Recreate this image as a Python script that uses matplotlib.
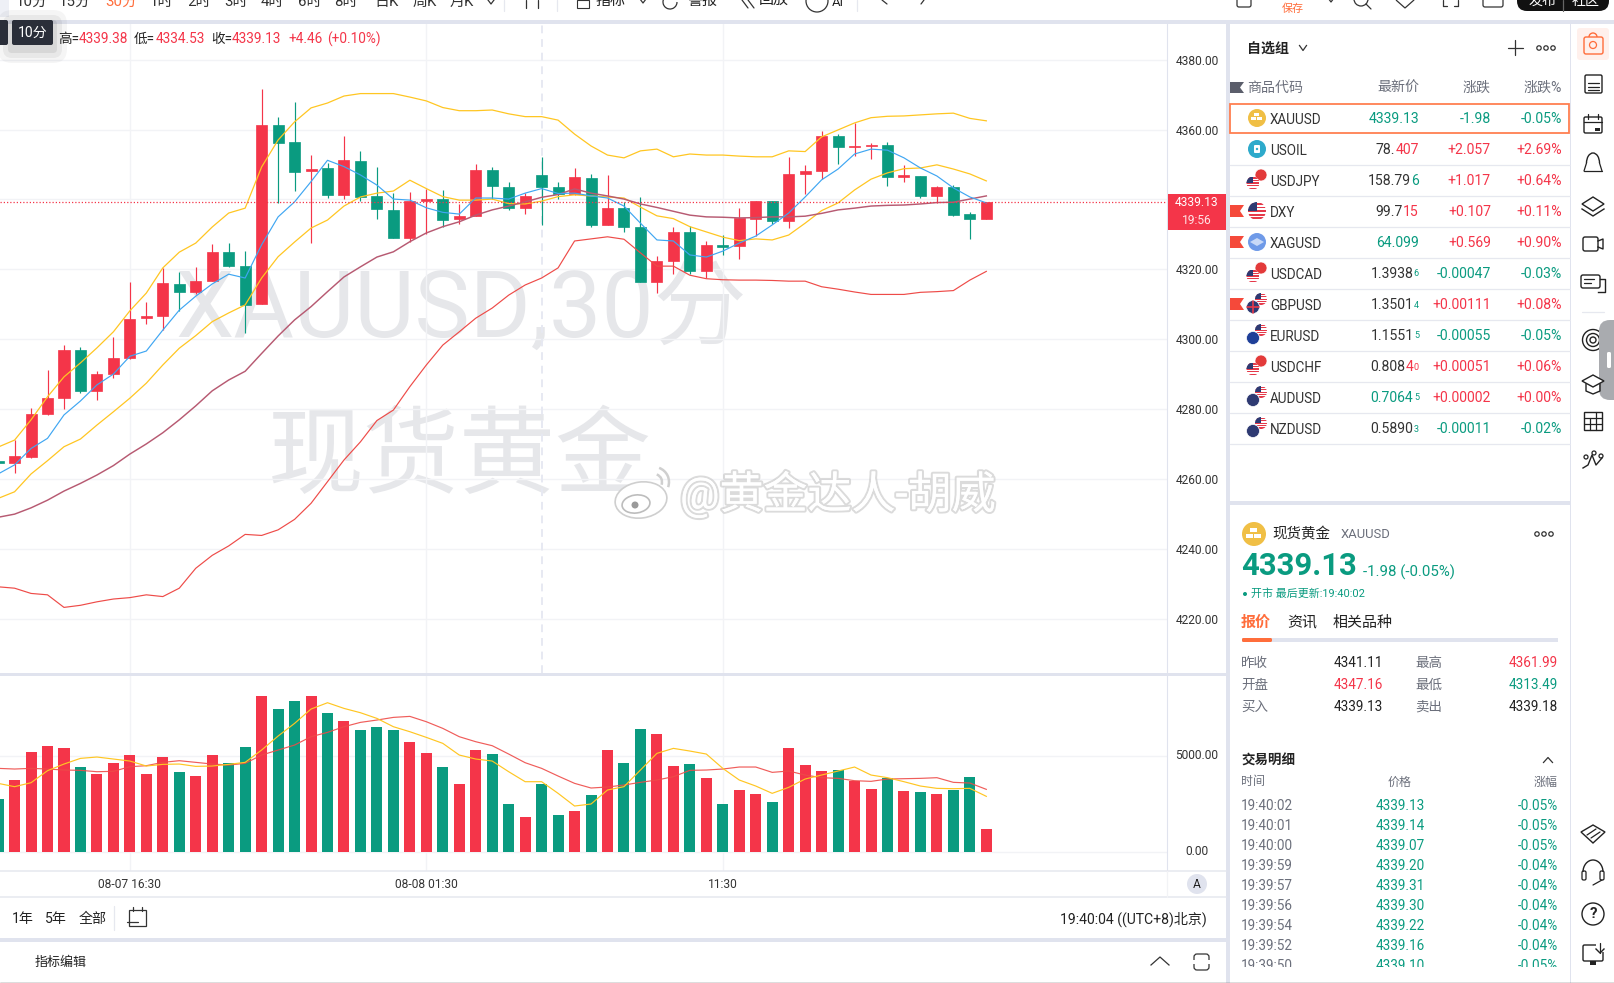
import matplotlib
matplotlib.use('Agg')
import matplotlib.pyplot as plt
import matplotlib.patheffects as pe
from matplotlib.patches import Rectangle, Circle, Polygon, Ellipse, Arc, FancyBboxPatch

plt.rcParams['font.family'] = ['Roboto', 'Noto Sans CJK SC', 'DejaVu Sans']

# candles, one row per 30 minute bar
opens = [4265.0, 4264.6, 4266.3, 4278.6, 4283.2, 4296.9, 4285.2, 4290.0, 4294.6, 4306.05, 4306.6, 4315.8, 4313.5, 4316.6, 4325.0, 4320.9,
         4310.1, 4361.3, 4356.4, 4348.13, 4349.0, 4341.3, 4351.0, 4341.0, 4337.0, 4329.0, 4339.54, 4340.1, 4334.39, 4335.3, 4348.4,
         4343.6, 4337.5, 4347.0, 4343.6, 4341.6, 4346.1, 4332.7, 4337.5, 4332.1, 4316.4, 4322.4, 4330.7, 4319.5, 4326.95, 4326.7,
         4334.4, 4339.5, 4333.8, 4347.3, 4348.1, 4358.2, 4355.0, 4355.29, 4355.6, 4346.42, 4346.7, 4341.0, 4343.6, 4335.8, 4334.4]
closes = [4264.5, 4266.5, 4278.6, 4283.2, 4296.9, 4285.2, 4290.0, 4294.6, 4305.8, 4306.62, 4316.1, 4313.5, 4316.6, 4325.0, 4320.9, 4309.8,
          4361.3, 4356.2, 4347.9, 4348.71, 4341.3, 4351.3, 4340.7, 4337.3, 4329.0, 4339.5, 4340.12, 4334.1, 4335.25, 4348.4, 4343.8,
          4337.5, 4341.0, 4343.6, 4341.6, 4346.4, 4332.7, 4337.5, 4332.1, 4316.4, 4322.4, 4330.7, 4319.5, 4327.0, 4326.38, 4334.7,
          4339.5, 4333.8, 4347.3, 4348.1, 4358.2, 4355.0, 4355.29, 4355.58, 4346.4, 4346.99, 4341.0, 4343.6, 4335.5, 4334.4, 4339.13]
highs = [4265.0, 4271.1, 4280.3, 4291.2, 4298.3, 4297.8, 4290.9, 4300.6, 4316.4, 4310.6, 4320.4, 4319.2, 4320.7, 4327.2, 4327.5, 4325.2,
         4371.6, 4363.6, 4367.9, 4352.7, 4350.4, 4358.2, 4353.9, 4349.3, 4341.8, 4342.1, 4343.0, 4342.7, 4338.7, 4350.1, 4349.3,
         4345.0, 4341.8, 4352.1, 4345.0, 4349.0, 4347.3, 4347.0, 4339.3, 4340.7, 4323.8, 4332.1, 4332.4, 4328.1, 4329.8, 4337.5,
         4339.5, 4339.5, 4352.1, 4349.9, 4359.6, 4358.7, 4361.9, 4356.2, 4356.4, 4349.9, 4346.7, 4343.8, 4344.1, 4336.4, 4339.38]
lows = [4264.5, 4261.8, 4266.1, 4278.3, 4280.0, 4284.6, 4282.6, 4288.9, 4294.3, 4304.3, 4302.6, 4308.1, 4312.9, 4316.6, 4320.7, 4301.8,
        4310.1, 4339.0, 4342.4, 4327.5, 4340.4, 4340.1, 4339.5, 4334.4, 4329.0, 4327.8, 4330.1, 4332.1, 4333.0, 4335.3, 4340.1,
        4337.0, 4335.8, 4332.7, 4340.1, 4341.3, 4332.1, 4332.7, 4330.7, 4316.4, 4313.2, 4318.7, 4318.7, 4317.5, 4324.1, 4322.9,
        4329.5, 4333.0, 4331.8, 4341.6, 4345.8, 4350.1, 4352.4, 4351.6, 4343.8, 4345.0, 4340.4, 4339.0, 4335.3, 4328.7, 4334.39]

ma_blue = [4261.4, 4264.0, 4268.7, 4271.6, 4278.3, 4282.3, 4286.9, 4290.0, 4295.1, 4296.6, 4302.6, 4308.3, 4312.3, 4315.8, 4318.6, 4317.5,
           4327.0, 4335.0, 4339.3, 4345.1, 4351.2, 4349.4, 4347.0, 4344.1, 4340.1, 4339.8, 4337.6, 4336.3, 4335.8, 4340.4, 4340.4,
           4340.1, 4341.8, 4343.1, 4341.7, 4341.8, 4341.0, 4340.4, 4338.1, 4333.2, 4328.4, 4328.1, 4324.1, 4323.5, 4325.2, 4327.5,
           4329.5, 4332.7, 4336.1, 4340.7, 4345.6, 4348.7, 4353.0, 4354.4, 4354.1, 4351.9, 4349.0, 4346.7, 4343.3, 4340.7, 4339.0]
band_upper = [4269.1, 4271.1, 4276.9, 4283.5, 4289.2, 4293.2, 4297.5, 4302.1, 4308.1, 4313.2, 4320.4, 4324.9, 4327.5, 4332.1, 4336.1, 4337.5,
              4349.3, 4357.0, 4362.2, 4366.2, 4367.6, 4369.6, 4370.3, 4370.3, 4370.3, 4369.3, 4368.2, 4366.3, 4365.4, 4365.4, 4365.6,
              4364.5, 4363.7, 4363.7, 4362.7, 4358.7, 4355.3, 4352.7, 4351.9, 4353.9, 4354.4, 4352.2, 4353.0, 4352.7, 4352.7, 4352.4,
              4352.2, 4352.2, 4353.9, 4353.7, 4357.9, 4359.9, 4361.9, 4363.4, 4363.8, 4363.9, 4364.2, 4364.5, 4364.7, 4363.2, 4362.5]
ma_yellow = [4254.4, 4256.3, 4261.4, 4265.2, 4269.2, 4271.4, 4275.4, 4279.2, 4283.1, 4287.4, 4292.6, 4297.4, 4301.0, 4305.0, 4307.5, 4309.8,
             4317.5, 4323.6, 4327.8, 4331.8, 4334.1, 4338.1, 4340.7, 4341.8, 4342.4, 4345.5, 4343.1, 4340.8, 4339.8, 4339.8, 4340.1,
             4338.8, 4338.7, 4339.5, 4340.8, 4341.3, 4341.0, 4340.7, 4340.4, 4337.8, 4335.3, 4334.5, 4332.2, 4330.7, 4329.2, 4328.2,
             4328.7, 4328.4, 4329.8, 4333.2, 4336.8, 4339.0, 4342.7, 4345.8, 4347.6, 4348.8, 4349.0, 4349.9, 4348.7, 4347.3, 4345.3]
ma_mauve = [4249.0, 4249.9, 4251.7, 4253.9, 4256.5, 4258.7, 4261.1, 4263.8, 4267.1, 4270.0, 4273.2, 4276.9, 4280.9, 4285.2, 4288.3, 4290.8,
            4295.9, 4300.9, 4305.5, 4309.3, 4313.6, 4317.8, 4320.7, 4323.5, 4325.0, 4327.9, 4330.4, 4332.2, 4333.6, 4335.5, 4337.0,
            4338.1, 4339.3, 4340.6, 4341.4, 4343.0, 4341.8, 4341.0, 4340.1, 4338.7, 4337.7, 4336.6, 4335.5, 4335.0, 4334.9, 4334.7,
            4334.8, 4335.0, 4335.0, 4335.2, 4336.0, 4337.0, 4337.5, 4338.1, 4338.3, 4338.4, 4338.7, 4339.1, 4339.2, 4340.1, 4341.0]
band_lower = [4229.1, 4228.7, 4227.2, 4226.8, 4223.2, 4223.8, 4224.8, 4225.6, 4226.0, 4226.8, 4226.3, 4228.7, 4234.4, 4238.1, 4240.8, 4244.1,
              4243.8, 4245.4, 4248.4, 4253.0, 4259.2, 4265.4, 4270.6, 4276.7, 4279.7, 4286.4, 4292.6, 4298.3, 4302.1, 4306.0, 4308.9,
              4312.6, 4315.5, 4317.5, 4320.4, 4328.1, 4328.7, 4329.3, 4328.6, 4324.7, 4320.9, 4320.9, 4318.3, 4317.3, 4317.0, 4316.9,
              4316.9, 4316.8, 4316.6, 4316.6, 4315.0, 4314.3, 4313.5, 4312.8, 4312.8, 4312.8, 4313.4, 4313.6, 4313.9, 4316.9, 4319.4]

volumes = [2750, 3737, 5190, 5501, 5398, 4412, 4048, 4619, 5034, 4048, 4931, 4152, 3944, 5034, 4619, 5450,
           8096, 7422, 7837, 8096, 7214, 6799, 6332, 6488, 6332, 5709, 5138, 4412, 3529, 5294, 5086,
           2491, 1817, 3529, 1920, 2128, 2958, 5294, 4619, 6384, 6124, 4463, 4567, 3841, 2491, 3218,
           3010, 2595, 5398, 4515, 4204, 4256, 3685, 3270, 3841, 3166, 3114, 3010, 3218, 3893, 1194]
vol_ma_short = [3564, 3391, 3598, 4221, 4567, 4861, 4931, 4827, 4723, 4463, 4550, 4567, 4446, 4463, 4550, 4654,
                5294, 6020, 6678, 7422, 7750, 7456, 7231, 6937, 6505, 6245, 5951, 5640, 5034, 4827, 4723,
                4169, 3650, 3650, 3045, 2387, 2491, 3218, 3391, 4256, 5121, 5380, 5242, 5086, 4342, 3737,
                3425, 3045, 3356, 3789, 3996, 4204, 4412, 3996, 3858, 3650, 3425, 3304, 3287, 3304, 2889]
vol_ma_long = [4342, 4308, 4342, 4308, 4256, 4239, 4169, 4187, 4429, 4481, 4654, 4740, 4654, 4567, 4515, 4602,
               5034, 5294, 5553, 5986, 6211, 6505, 6730, 6851, 6989, 7041, 6764, 6418, 5986, 5726, 5519,
               5086, 4636, 4342, 3944, 3564, 3322, 3374, 3477, 3616, 3737, 3910, 4239, 4256, 4308, 4412,
               4412, 4135, 4204, 3996, 3858, 3823, 3702, 3668, 3789, 3806, 3823, 3858, 3616, 3581, 3252]

price_ticks = [4380, 4360, 4340, 4320, 4300, 4280, 4260, 4240, 4220]
# 4340.00 sits under the price tag in the screenshot
price_labels = ['4380.00', '4360.00', '', '4320.00', '4300.00', '4280.00', '4260.00', '4240.00', '4220.00']
vol_ticks = [0, 5000]
time_ticks = [8, 26, 44]
time_labels = ['08-07 16:30', '08-08 01:30', '11:30']
last_close = 4339.13

toolbar_labels = ['10分', '15分', '30分', '1时', '2时', '3时', '4时', '6时', '8时', '日K', '周K', '月K']
watch_symbols = ['XAUUSD', 'USOIL', 'USDJPY', 'DXY', 'XAGUSD', 'USDCAD', 'GBPUSD', 'EURUSD', 'USDCHF', 'AUDUSD', 'NZDUSD']
watch_change = ['-1.98', '+2.057', '+1.017', '+0.107', '+0.569', '-0.00047', '+0.00111', '-0.00055', '+0.00051', '+0.00002', '-0.00011']
watch_pct = ['-0.05%', '+2.69%', '+0.64%', '+0.11%', '+0.90%', '-0.03%', '+0.08%', '-0.05%', '+0.06%', '+0.00%', '-0.02%']
# quote split in the parts that are coloured differently: (dark part, coloured part, small last digit)
watch_quote = [('', '4339.13', '', 'g'), ('78.', '407', '', 'r'), ('158.79', '6', '', 'g'), ('99.7', '15', '', 'r'),
               ('', '64.099', '', 'g'), ('1.3938', '', '6', 'g'), ('1.3501', '', '4', 'g'), ('1.1551', '', '5', 'g'),
               ('0.808', '4', '0', 'r'), ('', '0.7064', '5', 'g'), ('0.5890', '', '3', 'g')]
trade_times = ['19:40:02', '19:40:01', '19:40:00', '19:39:59', '19:39:57', '19:39:56', '19:39:54', '19:39:52', '19:39:50']
trade_prices = ['4339.13', '4339.14', '4339.07', '4339.20', '4339.31', '4339.30', '4339.22', '4339.16', '4339.10']
trade_pcts = ['-0.05%', '-0.05%', '-0.05%', '-0.04%', '-0.04%', '-0.04%', '-0.04%', '-0.04%', '-0.05%']

RED = '#f43549'
GREEN = '#0a9b80'
ORANGE = '#ff6d3b'
YELLOW = '#ffc622'
BLUE = '#3fa6f2'
MAUVE = '#b75a72'
LOWER = '#ee4b48'
GRID = '#f2f3f6'
PAGE = '#e0e3ee'
DARK = '#222222'
GRAY = '#6b6f7b'

W, H = 1615, 983
fig = plt.figure(figsize=(W / 100, H / 100), dpi=100, facecolor=PAGE)


def px_axes(x0, y0, x1, y1):
    return fig.add_axes([x0 / W, 1 - y1 / H, (x1 - x0) / W, (y1 - y0) / H])


def fs(px):
    return px * 0.72


bg = fig.add_axes([0, 0, 1, 1], zorder=0)
ui = fig.add_axes([0, 0, 1, 1], zorder=5)
for a in (bg, ui):
    a.set_xlim(0, W)
    a.set_ylim(H, 0)
    a.axis('off')
    a.patch.set_alpha(0)
bg.set_facecolor(PAGE)
ui.patch.set_visible(False)

for x0, y0, x1, y1 in [(0, 0, W, 20), (0, 24, 1226, 673), (0, 676, 1226, 938), (0, 942, 1226, H),
                       (1230, 24, 1570, 501), (1230, 505, 1570, H), (1571, 24, W, H)]:
    bg.add_patch(Rectangle((x0, y0), x1 - x0, y1 - y0, fc='white', ec='none'))

# background watermarks
bg.text(175, 311, 'XAUUSD,30分', fontsize=fs(93), color='#e6e7ea', va='center', ha='left')
bg.text(268, 460, '现货黄金', fontsize=fs(96), color='#e6e7ea', va='center', ha='left')

# price pane
ax = px_axes(0, 24, 1167, 673)
ax.set_zorder(2)
ax.patch.set_visible(False)
idx = list(range(len(opens)))
ax.set_xlim(0.115, 70.97)
ax.set_ylim(4204.42, 4390.22)
ax.set_yticks(price_ticks)
ax.set_yticklabels(price_labels, fontsize=fs(12), color='#333333')
ax.yaxis.tick_right()
ax.tick_params(axis='y', length=0, pad=6.5)
ax.set_xticks(time_ticks)
ax.tick_params(axis='x', length=0, labelbottom=False)
ax.grid(True, color=GRID, lw=1.0)
ax.set_axisbelow(True)
for s in ax.spines.values():
    s.set_visible(False)
ax.spines['right'].set_visible(True)
ax.spines['right'].set_color(PAGE)
ax.axvline(33, color='#e7e9f2', lw=1.4, ls=(0, (4, 3)), zorder=1)

colors = [RED if c >= o else GREEN for o, c in zip(opens, closes)]
ax.vlines(idx, lows, highs, colors=colors, lw=0.85, zorder=3)
body_low = [min(o, c) for o, c in zip(opens, closes)]
body_h = [abs(c - o) for o, c in zip(opens, closes)]
ax.bar(idx, body_h, bottom=body_low, width=0.67, color=colors, edgecolor=colors, lw=0.5, zorder=3)

ax.plot(idx, band_upper, color=YELLOW, lw=0.9, zorder=4)
ax.plot(idx, ma_yellow, color=YELLOW, lw=0.9, zorder=4)
ax.plot(idx, ma_mauve, color=MAUVE, lw=1.05, zorder=4)
ax.plot(idx, band_lower, color=LOWER, lw=0.85, zorder=4)
ax.plot(idx, ma_blue, color=BLUE, lw=0.85, zorder=4)
ax.axhline(last_close, color=RED, lw=0.9, ls=(0, (1, 1.6)), zorder=5)

# volume pane
vx = px_axes(0, 676, 1167, 871)
vx.set_zorder(2)
vx.patch.set_visible(False)
vx.set_xlim(0.115, 70.97)
vx.set_ylim(-987, 9138)
vx.set_yticks(vol_ticks)
vx.set_yticklabels([f'{v:.2f}' for v in vol_ticks], fontsize=fs(12), color='#333333', ha='center', va='center')
vx.yaxis.tick_right()
vx.tick_params(axis='y', length=0, pad=21.6)
vx.set_xticks(time_ticks)
vx.set_xticklabels(time_labels, fontsize=fs(12), color='#333333')
vx.tick_params(axis='x', length=0, pad=4.8)
vx.grid(True, color=GRID, lw=1.0)
vx.set_axisbelow(True)
for s in vx.spines.values():
    s.set_visible(False)
vx.spines['right'].set_visible(True)
vx.spines['right'].set_color(PAGE)
vx.bar(idx, volumes, width=0.67, color=colors, zorder=3)
vx.plot(idx, vol_ma_long, color=LOWER, lw=0.85, alpha=0.9, zorder=4)
vx.plot(idx, vol_ma_short, color=YELLOW, lw=0.85, zorder=4)


def line(x0, y0, x1, y1, c='#333333', lw=0.9, **kw):
    ui.plot([x0, x1], [y0, y1], color=c, lw=lw, solid_capstyle='round', **kw)


def text(x, y, s, px=13, c=DARK, ha='left', **kw):
    return ui.text(x, y + 1, s, fontsize=fs(px), color=c, ha=ha, va='center', **kw)


def rtext(x, y, parts, px=14):
    # right aligned run of differently coloured pieces
    r = fig.canvas.get_renderer()
    for s, c, size in reversed(parts):
        if not s:
            continue
        t = text(x, y, s, px=size or px, c=c, ha='right')
        x -= t.get_window_extent(r).width + 0.5


def dots(x, y):
    for dx in (-7, 0, 7):
        ui.add_patch(Circle((x + dx, y), 2.2, fc='white', ec='#333333', lw=0.9))


def chevron(x, y, up=False, w=5, h=3, c='#333333'):
    s = -1 if up else 1
    ui.plot([x - w, x, x + w], [y - s * h, y + s * h, y - s * h], color=c, lw=0.9)


# top toolbar, cut by the top edge of the screenshot
toolbar_x = [32, 75, 121, 162, 199, 236, 272, 310, 346, 387, 425, 462]
for x, s in zip(toolbar_x, toolbar_labels):
    text(x, 1, s, px=15, c=ORANGE if s == '30分' else '#333333', ha='center')
chevron(491, 2, w=3, h=2)
bg.add_patch(Rectangle((0, 0), 9, 17, fc='#eef0f6', ec='none'))
for x in (504, 557, 857):
    line(x, 0, x, 11, c='#e6e8ef')
line(526, 0, 526, 8)
line(538, 0, 538, 8)
ui.add_patch(Rectangle((577, 0), 12, 8, fc='none', ec='#333333', lw=0.8))
text(611, 0, '指标', px=15, ha='center')
chevron(643, 1, w=3, h=2)
ui.add_patch(Arc((670, 2), 14, 14, theta1=0, theta2=200, ec='#333333', lw=0.9))
text(703, 0, '警报', px=15, ha='center')
line(742, 0, 748, 8)
line(748, 0, 754, 8)
text(774, 0, '回放', px=15, ha='center')
ui.add_patch(Circle((817, 1), 11, fc='none', ec='#333333', lw=0.9))
text(838, 1, 'AI', px=13, ha='center')
line(882, 0, 887, 4)
line(924, 0, 921, 4)
ui.add_patch(FancyBboxPatch((1237, -6), 14, 13, boxstyle='round,pad=0,rounding_size=2', fc='white', ec='#333333', lw=0.9))
text(1293, 8, '保存', px=11, c=ORANGE, ha='center')
chevron(1331, 0, w=3, h=2)
ui.add_patch(Circle((1361, -1), 7, fc='none', ec='#333333', lw=0.9))
line(1366, 4, 1371, 9)
ui.add_patch(Polygon([(1396, 0), (1405, 8), (1414, 0), (1411, -5), (1399, -5)], closed=True, fc='none', ec='#333333', lw=0.9))
for x in (1443, 1458):
    line(x, 0, x, 6)
line(1443, 6, 1447, 6)
line(1458, 6, 1454, 6)
ui.add_patch(FancyBboxPatch((1483, -6), 20, 13, boxstyle='round,pad=0,rounding_size=2', fc='white', ec='#333333', lw=0.9))
ui.add_patch(FancyBboxPatch((1517, -12), 92, 23, boxstyle='round,pad=0,rounding_size=10', fc='#111111', ec='none'))
line(1563, 0, 1563, 11, c='#666666')
text(1543, 0, '发布', px=14, c='white', ha='center')
text(1586, 0, '社区', px=14, c='white', ha='center')

# timeframe tooltip and ohlc line
for grow, al in [(14, 0.04), (9, 0.05), (4, 0.07)]:
    ui.add_patch(FancyBboxPatch((12 - grow, 20 - grow + 4), 41 + 2 * grow, 25 + 2 * grow,
                                boxstyle=f'round,pad=0,rounding_size={grow}', fc='black', ec='none', alpha=al))
ui.add_patch(FancyBboxPatch((-4, 20), 12, 25, boxstyle='round,pad=0,rounding_size=2', fc='#2a2e39', ec='none'))
ui.add_patch(FancyBboxPatch((12, 20), 41, 25, boxstyle='round,pad=0,rounding_size=2', fc='#2a2e39', ec='none'))
text(32.5, 32, '10分', px=14, c='white', ha='center')
for x, s, c in [(58, '高=', DARK), (79, '4339.38', RED), (134, '低=', DARK), (156, '4334.53', RED),
                (211, '收=', DARK), (232, '4339.13', RED), (288, '+4.46', RED), (327, '(+0.10%)', RED)]:
    text(x, 38, s, px=13.6, c=c)

# price tag on the axis
ui.add_patch(Rectangle((1168, 194), 58, 36, fc=RED, ec='none'))
text(1197, 202, '4339.13', px=12, c='white', ha='center')
text(1197, 220, '19:56', px=12, c='#ffe3e6', ha='center')

# strips under the panes
line(0, 871, 1226, 871, c='#e6e8ef', lw=1.1)
line(0, 897, 1226, 897, c='#e6e8ef', lw=1.1)
line(1167, 871, 1167, 897, c='#f2f3f6', lw=0.9)
ui.add_patch(Circle((1197, 884), 10, fc=PAGE, ec='none'))
text(1197, 883, 'A', px=12, ha='center')
for x, s in [(12, '1年'), (45, '5年'), (79, '全部')]:
    text(x, 918, s, px=14)
line(114.5, 906, 114.5, 930, c='#e6e8ef')
ui.add_patch(Rectangle((129, 910), 17, 16, fc='none', ec='#333333', lw=0.9))
line(133, 907, 133, 911)
line(142, 907, 142, 911)
line(127, 922, 138, 922)
text(1207, 918, '19:40:04 ((UTC+8)北京)', px=14, ha='right')
text(35, 961, '指标编辑', px=13)
chevron(1160, 961, up=True, w=9, h=4)
ui.add_patch(FancyBboxPatch((1194, 954), 15, 16, boxstyle='round,pad=0,rounding_size=3', fc='none', ec='#333333', lw=0.9))
ui.add_patch(Rectangle((1192, 960), 19, 4, fc='white', ec='none'))
line(0, 982.5, W, 982.5, c='#555555', lw=1.0)

# watchlist
text(1247, 48, '自选组', px=14, weight='bold')
chevron(1303, 48, w=3.5, h=2.5)
line(1508, 48, 1523, 48)
line(1515.5, 40, 1515.5, 55)
dots(1546, 48)
ui.add_patch(Polygon([(1230, 82), (1244, 82), (1240, 87.5), (1244, 93), (1230, 93)], closed=True, fc='#5b5e6b', ec='none'))
text(1247, 87, '商品代码', px=14, c=GRAY)
for x, s in [(1419, '最新价'), (1491, '涨跌'), (1562, '涨跌%')]:
    text(x, 87, s, px=14, c=GRAY, ha='right')


def us_flag(x, y, r):
    disc = Circle((x, y), r, fc='white', ec='none')
    ui.add_patch(disc)
    for k in range(-2, 3):
        st = ui.add_patch(Rectangle((x - r, y + k * r * 0.4 - r * 0.08), 2 * r, r * 0.2, fc='#e5394a', ec='none'))
        st.set_clip_path(disc)
    cn = ui.add_patch(Rectangle((x - r, y - r), r, r, fc='#2e3a72', ec='none'))
    cn.set_clip_path(disc)


def pair_icon(x, y, front, back):
    # back coin top right, front coin bottom left
    if back == 'us':
        us_flag(x + 4, y - 5, 6)
    else:
        ui.add_patch(Circle((x + 4, y - 5), 6, fc=back, ec='white', lw=0.5))
    if front == 'us':
        us_flag(x - 4, y + 3, 6.5)
    else:
        ui.add_patch(Circle((x - 4, y + 3), 6.5, fc=front, ec='white', lw=0.5))


row_y = [118 + 31 * i for i in range(len(watch_symbols))]
for i, y in enumerate(row_y):
    if i > 0:
        line(1230, y + 15.5, 1570, y + 15.5, c='#e6e8ef', lw=0.9)
    text(1270, y + 1, watch_symbols[i], px=13.5, c='#333333')
    dark, col, small, tone = watch_quote[i]
    tone_c = GREEN if tone == 'g' else RED
    rtext(1419, y, [(dark, '#333333', 0), (col, tone_c, 0), (small, tone_c, 9)])
    c = GREEN if watch_change[i].startswith('-') else RED
    text(1491, y, watch_change[i], px=14, c=c, ha='right')
    c = GREEN if watch_pct[i].startswith('-') else RED
    text(1562, y, watch_pct[i], px=14, c=c, ha='right')

ui.add_patch(Rectangle((1230.5, 103.5), 339, 29, fc='none', ec='#ff7f50', lw=1.3))
for y in (row_y[3], row_y[4], row_y[6]):
    ui.add_patch(Polygon([(1230, y - 6), (1244, y - 6), (1240, y), (1244, y + 6), (1230, y + 6)], closed=True, fc='#f5493a', ec='none'))

# coin icons
ui.add_patch(Circle((1257, 118), 9, fc='#f0bf45', ec='none'))
for bx, by in [(1254, 118.5), (1260, 118.5), (1257, 114.5)]:
    ui.add_patch(Rectangle((bx - 2.5, by - 1.3), 5, 3, fc='white', ec='none'))
ui.add_patch(Circle((1257, 149), 9, fc='#2eaacb', ec='none'))
ui.add_patch(FancyBboxPatch((1254, 145), 6, 8, boxstyle='round,pad=0,rounding_size=1', fc='white', ec='none'))
ui.add_patch(Circle((1257, 149), 1.2, fc='#2eaacb', ec='none'))
pair_icon(1257, row_y[2], 'us', '#e33a3a')
us_flag(1257, row_y[3], 9)
ui.add_patch(Circle((1257, row_y[4]), 9, fc='#6f9ae8', ec='none'))
ui.add_patch(Polygon([(1250, row_y[4]), (1257, row_y[4] - 4), (1264, row_y[4]), (1257, row_y[4] + 4)], closed=True, fc='#c9d9f7', ec='none'))
pair_icon(1257, row_y[5], 'us', '#e33a3a')
pair_icon(1257, row_y[6], '#2e3a72', 'us')
line(1247, row_y[6] + 3, 1259, row_y[6] + 3, c='#e5394a', lw=1.2)
line(1253, row_y[6] - 3, 1253, row_y[6] + 9, c='#e5394a', lw=1.2)
pair_icon(1257, row_y[7], '#1f3f98', 'us')
pair_icon(1257, row_y[8], 'us', '#e33a3a')
pair_icon(1257, row_y[9], '#2e3a72', 'us')
pair_icon(1257, row_y[10], '#2e3a72', 'us')

# quote panel
ui.add_patch(Circle((1254, 534), 12, fc='#f0bf45', ec='none'))
for bx, by in [(1250, 535.5), (1258, 535.5), (1254, 530)]:
    ui.add_patch(Rectangle((bx - 3.5, by - 1.7), 7, 3.8, fc='white', ec='none'))
text(1272.5, 533, '现货黄金', px=14.5)
text(1341, 534, 'XAUUSD', px=13, c=GRAY)
dots(1544, 534)
text(1241, 565, '4339.13', px=31, c=GREEN, weight='bold')
text(1363, 571, '-1.98 (-0.05%)', px=15, c=GREEN)
ui.add_patch(Circle((1245, 594), 2, fc=GREEN, ec='none'))
text(1251, 593, '开市 最后更新:19:40:02', px=11, c=GREEN)
text(1241, 622, '报价', px=15, c=ORANGE, weight='bold')
text(1287, 622, '资讯', px=15)
text(1333, 622, '相关品种', px=15)
ui.add_patch(Rectangle((1242, 638), 316, 4, fc=PAGE, ec='none'))
ui.add_patch(FancyBboxPatch((1242, 638), 30, 4, boxstyle='round,pad=0,rounding_size=1.5', fc=ORANGE, ec='none'))

for y, (a, av, ac, b, bv, bc) in zip((662, 684, 706), [('昨收', '4341.11', DARK, '最高', '4361.99', RED),
                                                      ('开盘', '4347.16', RED, '最低', '4313.49', GREEN),
                                                      ('买入', '4339.13', DARK, '卖出', '4339.18', DARK)]):
    text(1241, y, a, px=13.5, c=GRAY)
    text(1334, y, av, px=13.5, c=ac)
    text(1415, y, b, px=13.5, c=GRAY)
    text(1558, y, bv, px=13.5, c=bc, ha='right')

text(1241, 760, '交易明细', px=13.5, weight='bold')
chevron(1548, 760, up=True, w=4.5, h=2.5)
text(1241, 781, '时间', px=12, c=GRAY)
text(1400, 781, '价格', px=12, c=GRAY, ha='center')
text(1558, 781, '涨幅', px=12, c=GRAY, ha='right')
clip = Rectangle((1230, 790), 340, 177, transform=ui.transData)
for i in range(len(trade_times)):
    y = 805 + 20 * i
    for t in (text(1241, y, trade_times[i], px=13.5, c=GRAY),
              text(1400, y, trade_prices[i], px=13.5, c=GREEN, ha='center'),
              text(1558, y, trade_pcts[i], px=13.5, c=GREEN, ha='right')):
        t.set_clip_path(clip)
        t.set_clip_on(True)

# sidebar
ui.add_patch(FancyBboxPatch((1577, 28), 32, 32, boxstyle='round,pad=0,rounding_size=3', fc='#fff0ec', ec='none'))
ui.add_patch(FancyBboxPatch((1584, 37), 19, 17, boxstyle='round,pad=0,rounding_size=2', fc='none', ec=ORANGE, lw=1.0))
ui.add_patch(Arc((1593, 37), 8, 8, theta1=180, theta2=360, ec=ORANGE, lw=1.0))
ui.add_patch(Circle((1593, 45), 3.5, fc='none', ec=ORANGE, lw=0.9))
ic = '#222222'
ui.add_patch(FancyBboxPatch((1585, 75), 17, 18, boxstyle='round,pad=0,rounding_size=1.5', fc='none', ec=ic, lw=1.0))
for y in (83, 86.5, 90):
    line(1588, y, 1599, y, c=ic)
ui.add_patch(FancyBboxPatch((1584, 117), 18, 16, boxstyle='round,pad=0,rounding_size=1.5', fc='none', ec=ic, lw=1.0))
line(1584, 122, 1602, 122, c=ic)
line(1588, 114, 1588, 119, c=ic)
line(1598, 114, 1598, 119, c=ic)
ui.add_patch(Rectangle((1595, 128), 5, 2.5, fc=ic, ec='none'))
ui.add_patch(Arc((1593, 163), 13, 20, theta1=180, theta2=360, ec=ic, lw=1.0))
line(1586.5, 163, 1584, 171, c=ic)
line(1599.5, 163, 1602, 171, c=ic)
line(1584, 171, 1602, 171, c=ic)
ui.add_patch(Polygon([(1582, 204), (1593, 197), (1604, 204), (1593, 211)], closed=True, fc='none', ec=ic, lw=1.0))
ui.plot([1582, 1593, 1604], [209, 216, 209], color=ic, lw=1.0)
ui.add_patch(FancyBboxPatch((1583, 237), 15, 14, boxstyle='round,pad=0,rounding_size=2', fc='none', ec=ic, lw=1.0))
ui.plot([1598, 1603, 1603, 1598], [241, 239, 249, 247], color=ic, lw=1.0)
ui.add_patch(FancyBboxPatch((1581, 275), 19, 13, boxstyle='round,pad=0,rounding_size=2', fc='none', ec=ic, lw=1.0))
line(1584, 279, 1594, 279, c=ic)
line(1584, 283, 1591, 283, c=ic)
ui.plot([1600, 1605, 1605, 1598], [279, 279, 292, 292], color=ic, lw=1.0)
line(1582, 312, 1604, 312, c='#e6e8ef')
for r in (10.5, 6.5, 3):
    ui.add_patch(Circle((1593, 340), r, fc='none', ec=ic, lw=1.0))
ui.add_patch(FancyBboxPatch((1599, 320), 26, 80, boxstyle='round,pad=0,rounding_size=11', fc='#a9abaf', ec='none'))
ui.add_patch(FancyBboxPatch((1607, 352), 4, 16, boxstyle='round,pad=0,rounding_size=1.5', fc='white', ec='none'))
ui.add_patch(Polygon([(1582, 381), (1593, 375), (1604, 381), (1593, 387)], closed=True, fc='white', ec=ic, lw=1.0))
ui.plot([1586, 1586, 1593, 1600, 1600], [384, 391, 394, 391, 384], color=ic, lw=1.0)
ui.add_patch(Rectangle((1584, 412), 18, 18, fc='none', ec=ic, lw=1.0))
line(1584, 418, 1602, 418, c=ic)
line(1584, 424, 1602, 424, c=ic)
line(1590, 418, 1590, 430, c=ic)
line(1596, 412, 1596, 430, c=ic)
ui.plot([1583, 1588, 1592, 1596, 1602], [468, 465, 455, 465, 458], color=ic, lw=1.0)
for x, y in [(1586, 457), (1594, 453), (1601, 456)]:
    ui.add_patch(Circle((x, y), 2, fc='white', ec=ic, lw=0.9))
ui.add_patch(Polygon([(1581, 832), (1593, 825), (1605, 832), (1593, 843)], closed=True, fc='none', ec=ic, lw=1.0))
line(1587, 835, 1596, 829, c=ic)
line(1591, 838, 1600, 832, c=ic)
ui.add_patch(Arc((1593, 872), 20, 24, theta1=180, theta2=360, ec=ic, lw=1.0))
ui.add_patch(FancyBboxPatch((1582, 871), 4, 9, boxstyle='round,pad=0,rounding_size=1.5', fc='none', ec=ic, lw=0.9))
ui.add_patch(FancyBboxPatch((1600, 871), 4, 9, boxstyle='round,pad=0,rounding_size=1.5', fc='none', ec=ic, lw=0.9))
line(1602, 880, 1593, 885, c=ic)
ui.add_patch(Circle((1593, 914), 11, fc='none', ec=ic, lw=1.0))
text(1593, 913, '?', px=15, ha='center', weight='bold')
ui.add_patch(FancyBboxPatch((1583, 945), 20, 16, boxstyle='round,pad=0,rounding_size=1.5', fc='none', ec=ic, lw=1.0))
ui.add_patch(Rectangle((1596, 941), 10, 11, fc='white', ec='none'))
line(1600, 943, 1600, 953, c=ic)
ui.plot([1596, 1600, 1604], [949, 953, 949], color=ic, lw=1.0)
ui.add_patch(Rectangle((1590, 961), 6, 4, fc=ic, ec='none'))

# weibo stamp
glow = [pe.withStroke(linewidth=3.0, foreground='#c4c4c4', alpha=0.6), pe.Normal()]
w = ui.text(680, 494, '@黄金达人-胡威', fontsize=fs(44), color='white', ha='left', va='center')
w.set_path_effects(glow)
ui.add_patch(Ellipse((641, 500), 52, 36, angle=-8, fc='white', ec='#cfcfcf', lw=1.2, zorder=6))
ui.add_patch(Ellipse((636, 504), 28, 18, angle=-8, fc='white', ec='#bdbdbd', lw=1.2, zorder=7))
ui.add_patch(Circle((635, 505), 3.5, fc='#9a9a9a', ec='none', zorder=8))
ui.add_patch(Arc((654, 482), 16, 16, theta1=-70, theta2=20, ec='#cfcfcf', lw=1.8, zorder=6))
ui.add_patch(Arc((654, 482), 30, 30, theta1=-70, theta2=20, ec='#cfcfcf', lw=1.8, zorder=6))

fig.savefig('out.png', dpi=100, facecolor=PAGE)
